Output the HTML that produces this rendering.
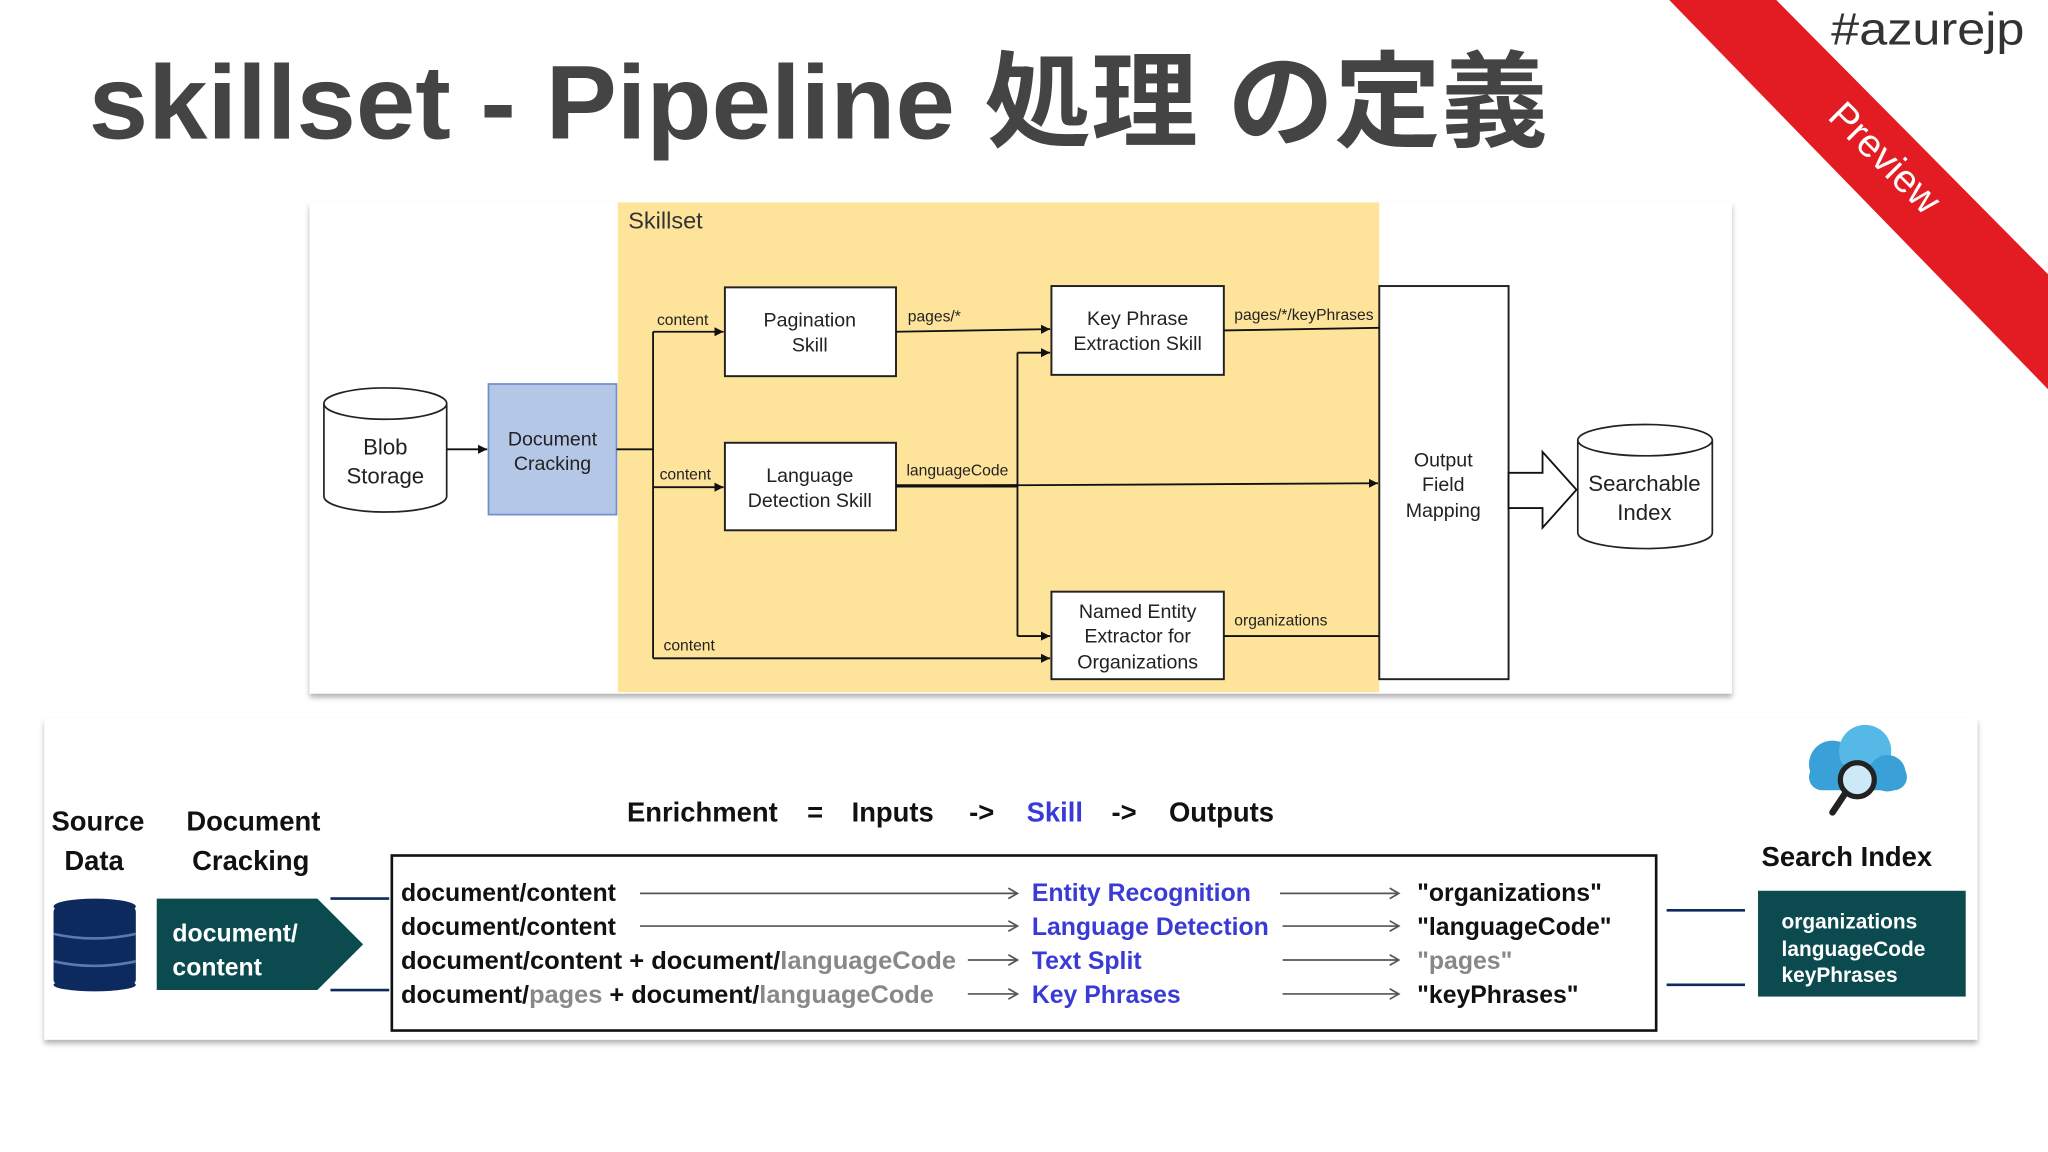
<!DOCTYPE html>
<html><head><meta charset="utf-8"><style>
html,body{margin:0;padding:0;background:#fff;}
svg{display:block;}
text{font-family:"Liberation Sans","Noto Sans CJK JP",sans-serif;}
</style></head><body>
<svg width="2048" height="1152" viewBox="0 0 1568 882" xmlns="http://www.w3.org/2000/svg">
<defs>
<marker id="a" markerWidth="8" markerHeight="8" refX="7" refY="4" orient="auto" markerUnits="userSpaceOnUse"><path d="M0,0.5 L7,4 L0,7.5 z" fill="#111"/></marker>
<marker id="g" markerWidth="10" markerHeight="10" refX="8" refY="5" orient="auto" markerUnits="userSpaceOnUse"><path d="M1,1 L8,5 L1,9" fill="none" stroke="#555" stroke-width="1.3"/></marker>
<filter id="sh" x="-5%" y="-5%" width="110%" height="115%"><feDropShadow dx="0" dy="3" stdDeviation="2" flood-color="#000" flood-opacity="0.3"/></filter>
</defs>
<rect width="1568" height="882" fill="#fff"/>
<polygon points="1278,0 1360,0 1568,210 1568,298" fill="#e31b23"/>
<text x="1436" y="128" fill="#fff" font-size="30" text-anchor="middle" transform="rotate(45 1436 128)">Preview</text>
<text x="1402" y="34" fill="#333" font-size="35" textLength="148" lengthAdjust="spacingAndGlyphs">#azurejp</text>
<text x="68" y="106" fill="#444" font-size="80" font-weight="bold" textLength="1117" lengthAdjust="spacingAndGlyphs">skillset - Pipeline 処理 の定義</text>

<rect x="237" y="155" width="1089" height="376" fill="#fff" filter="url(#sh)"/>
<rect x="473" y="155" width="583" height="375" fill="#fee49b"/>
<text x="481" y="175" font-size="18" fill="#333">Skillset</text>
<g stroke="#222" stroke-width="1.3" fill="#fff">
<path d="M248,309 L248,380 A47,12 0 0 0 342,380 L342,309"/>
<ellipse cx="295" cy="309" rx="47" ry="12"/>
<path d="M1208,337 L1208,408 A51.5,12 0 0 0 1311,408 L1311,337"/>
<ellipse cx="1259.5" cy="337" rx="51.5" ry="12"/>
</g>
<text x="295" y="348" font-size="17" text-anchor="middle" fill="#222">Blob</text>
<text x="295" y="370" font-size="17" text-anchor="middle" fill="#222">Storage</text>
<text x="1259" y="376" font-size="17" text-anchor="middle" fill="#222">Searchable</text>
<text x="1259" y="398" font-size="17" text-anchor="middle" fill="#222">Index</text>
<rect x="374" y="294" width="98" height="100" fill="#b4c7e7" stroke="#6f8fc7" stroke-width="1.3"/>
<text x="423" y="341" font-size="15" text-anchor="middle" fill="#222">Document</text>
<text x="423" y="360" font-size="15" text-anchor="middle" fill="#222">Cracking</text>
<g fill="#fff" stroke="#222" stroke-width="1.5">
<rect x="555" y="220" width="131" height="68"/>
<rect x="555" y="339" width="131" height="67"/>
<rect x="805" y="219" width="132" height="68"/>
<rect x="805" y="453" width="132" height="67"/>
<rect x="1056" y="219" width="99" height="301"/>
</g>
<g font-size="15" text-anchor="middle" fill="#222">
<text x="620" y="250">Pagination</text><text x="620" y="269">Skill</text>
<text x="620" y="369">Language</text><text x="620" y="388">Detection Skill</text>
<text x="871" y="249">Key Phrase</text><text x="871" y="268">Extraction Skill</text>
<text x="871" y="473">Named Entity</text><text x="871" y="492">Extractor for</text><text x="871" y="512">Organizations</text>
<text x="1105" y="357">Output</text><text x="1105" y="376">Field</text><text x="1105" y="396">Mapping</text>
</g>
<g stroke="#111" stroke-width="1.4" fill="none">
<line x1="342" y1="344" x2="373" y2="344" marker-end="url(#a)"/>
<line x1="472" y1="344" x2="500" y2="344"/>
<line x1="500" y1="254" x2="500" y2="504"/>
<line x1="500" y1="254" x2="554" y2="254" marker-end="url(#a)"/>
<line x1="500" y1="373" x2="554" y2="373" marker-end="url(#a)"/>
<line x1="500" y1="504" x2="804" y2="504" marker-end="url(#a)"/>
<line x1="686" y1="254" x2="804" y2="252" marker-end="url(#a)"/>
<line x1="686" y1="372" x2="1055" y2="370" marker-end="url(#a)"/>
<line x1="686" y1="372" x2="779" y2="372" stroke-width="2.5"/>
<line x1="779" y1="270" x2="779" y2="487"/>
<line x1="779" y1="270" x2="804" y2="270" marker-end="url(#a)"/>
<line x1="779" y1="487" x2="804" y2="487" marker-end="url(#a)"/>
<line x1="937" y1="253" x2="1056" y2="251"/>
<line x1="937" y1="487" x2="1056" y2="487"/>
<polygon points="1155,362 1181,362 1181,346 1207,375 1181,404 1181,389 1155,389" fill="#fff"/>
</g>
<g font-size="12" fill="#222">
<text x="503" y="249">content</text>
<text x="505" y="367">content</text>
<text x="508" y="498">content</text>
<text x="695" y="246">pages/*</text>
<text x="694" y="364">languageCode</text>
<text x="945" y="245">pages/*/keyPhrases</text>
<text x="945" y="479">organizations</text>
</g>

<rect x="34" y="550" width="1480" height="246" fill="#fff" filter="url(#sh)"/>
<g font-size="21" font-weight="bold" fill="#111">
<text x="75" y="636" text-anchor="middle">Source</text>
<text x="72" y="666" text-anchor="middle">Data</text>
<text x="194" y="636" text-anchor="middle">Document</text>
<text x="192" y="666" text-anchor="middle">Cracking</text>
<text x="480" y="629">Enrichment</text>
<text x="618" y="629">=</text>
<text x="652" y="629">Inputs</text>
<text x="742" y="629">-&gt;</text>
<text x="786" y="629" fill="#3a3ad6">Skill</text>
<text x="851" y="629">-&gt;</text>
<text x="895" y="629">Outputs</text>
<text x="1414" y="663" text-anchor="middle">Search Index</text>
</g>
<rect x="300" y="655" width="968" height="134" fill="#fff" stroke="#111" stroke-width="2"/>
<g font-size="19" font-weight="bold" fill="#111">
<text x="307" y="690">document/content</text>
<text x="307" y="716">document/content</text>
<text x="307" y="742" textLength="425" lengthAdjust="spacingAndGlyphs">document/content + document/<tspan fill="#888">languageCode</tspan></text>
<text x="307" y="768" textLength="408" lengthAdjust="spacingAndGlyphs">document/<tspan fill="#888">pages</tspan> + document/<tspan fill="#888">languageCode</tspan></text>
<g fill="#3a3ad6">
<text x="790" y="690">Entity Recognition</text>
<text x="790" y="716">Language Detection</text>
<text x="790" y="742">Text Split</text>
<text x="790" y="768">Key Phrases</text>
</g>
<text x="1085" y="690">"organizations"</text>
<text x="1085" y="716">"languageCode"</text>
<text x="1085" y="742" fill="#888">"pages"</text>
<text x="1085" y="768">"keyPhrases"</text>
</g>
<g stroke="#555" stroke-width="1.3" fill="none">
<line x1="490" y1="684" x2="779" y2="684" marker-end="url(#g)"/>
<line x1="490" y1="709" x2="779" y2="709" marker-end="url(#g)"/>
<line x1="741" y1="735" x2="779" y2="735" marker-end="url(#g)"/>
<line x1="741" y1="761" x2="779" y2="761" marker-end="url(#g)"/>
<line x1="980" y1="684" x2="1071" y2="684" marker-end="url(#g)"/>
<line x1="982" y1="709" x2="1071" y2="709" marker-end="url(#g)"/>
<line x1="982" y1="735" x2="1071" y2="735" marker-end="url(#g)"/>
<line x1="982" y1="761" x2="1071" y2="761" marker-end="url(#g)"/>
</g>
<g stroke="#0d2a5e" stroke-width="2">
<line x1="253" y1="688" x2="298" y2="688"/><line x1="253" y1="758" x2="298" y2="758"/>
<line x1="1276" y1="697" x2="1336" y2="697"/><line x1="1276" y1="754" x2="1336" y2="754"/>
</g>
<g fill="#0d2a5e">
<rect x="41" y="694" width="63" height="60" rx="4"/>
<ellipse cx="72.5" cy="694" rx="31.5" ry="6"/>
<ellipse cx="72.5" cy="754" rx="31.5" ry="5"/>
</g>
<path d="M41,715 Q72,722 104,715 M41,736 Q72,743 104,736" stroke="#5a7bb0" stroke-width="2" fill="none"/>
<polygon points="120,688 243,688 278,723 243,758 120,758" fill="#0b4a4f"/>
<text x="132" y="721" font-size="19" font-weight="bold" fill="#fff">document/</text>
<text x="132" y="747" font-size="19" font-weight="bold" fill="#fff">content</text>
<rect x="1346" y="682" width="159" height="81" fill="#0b4a4f"/>
<g font-size="16" font-weight="bold" fill="#fff">
<text x="1364" y="711">organizations</text>
<text x="1364" y="732">languageCode</text>
<text x="1364" y="752">keyPhrases</text>
</g>
<g>
<circle cx="1403" cy="585" r="18" fill="#3aa0d8"/>
<circle cx="1428" cy="575" r="20" fill="#55b8e6"/>
<circle cx="1445" cy="592" r="14" fill="#3aa0d8"/>
<rect x="1385" y="585" width="75" height="20" rx="10" fill="#3aa0d8"/>
<circle cx="1422" cy="597" r="13" fill="#cde9f7" stroke="#222" stroke-width="4"/>
<line x1="1413" y1="607" x2="1403" y2="622" stroke="#222" stroke-width="5" stroke-linecap="round"/>
</g>
</svg>
</body></html>
